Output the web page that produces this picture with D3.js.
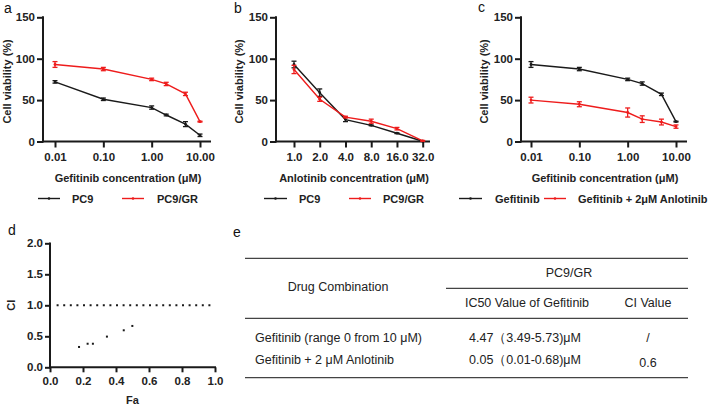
<!DOCTYPE html>
<html><head><meta charset="utf-8">
<script src="https://cdn.jsdelivr.net/npm/d3@7"></script>
<style>
html,body{margin:0;padding:0;background:#fff;}
svg{display:block;font-family:Arial,"Liberation Sans",sans-serif;}
.tk text{font-weight:bold;font-size:11.5px;fill:#222;}
.bt{font-weight:bold;font-size:11px;fill:#222;}
.tb{font-size:12.5px;fill:#222;}
</style></head><body>
<svg id="c" width="709" height="406"></svg>
<script>
// ---------- data ----------
const concA = [0.01, 0.1, 1, 2, 5, 10];
const pc9A = [72, 51, 41, 32, 21, 7.5];
const pc9AErr = [1.5, 1.5, 2, 1, 3, 1.5];
const pc9grA = [93, 87.5, 75, 69.5, 57.5, 24];
const pc9grAErr = [3.5, 2, 1.5, 2, 2, 0.5];
const ticksA = [0.01, 0.1, 1, 10];
const tickLabelsA = ["0.01", "0.10", "1.00", "10.00"];

const concB = [1, 2, 4, 8, 16, 32];
const pc9B = [93, 59, 26.5, 19.5, 10, 0.3];
const pc9BErr = [4, 4.5, 2.5, 0.5, 0.5, 0];
const pc9grB = [87, 51, 29.5, 24.5, 15.5, 0.8];
const pc9grBErr = [5, 2.5, 1, 2.5, 1.5, 0.5];
const tickLabelsB = ["1.0", "2.0", "4.0", "8.0", "16.0", "32.0"];

const concC = [0.01, 0.1, 1, 2, 5, 10];
const gefC = [93, 87.5, 75, 70, 57, 24];
const gefCErr = [3.5, 2, 1.5, 2, 1.5, 0.5];
const comboC = [50, 45, 35, 27, 23.5, 18];
const comboCErr = [3.5, 3, 5.5, 4, 3.5, 2];

const yTicks = [0, 50, 100, 150];

const faD = [0.176, 0.228, 0.26, 0.345, 0.447, 0.499];
const ciD = [0.328, 0.38, 0.38, 0.495, 0.597, 0.667];
const ciThreshold = 1.0;
const ticksDx = [0, 0.2, 0.4, 0.6, 0.8, 1.0];
const ticksDy = [0, 0.5, 1.0, 1.5, 2.0];

const tableHead = ["Drug Combination", "PC9/GR", "IC50 Value of Gefitinib", "CI Value"];
const tableRows = [
  ["Gefitinib (range 0 from 10 μM)", "4.47（3.49-5.73)μM", "/"],
  ["Gefitinib + 2 μM Anlotinib", "0.05（0.01-0.68)μM", "0.6"]
];

const BLACK = "#1a1a1a", RED = "#ee1c1c";
const svg = d3.select("#c");

function yAxisPanel(g, y, x0, xEnd, y0) {
  g.append("line").attr("x1", x0).attr("x2", x0).attr("y1", y.range()[1] - 1).attr("y2", y0 + 1)
    .attr("stroke", BLACK).attr("stroke-width", 2);
  g.append("line").attr("x1", x0 - 1).attr("x2", xEnd).attr("y1", y0).attr("y2", y0)
    .attr("stroke", BLACK).attr("stroke-width", 2);
}

function linePanel(opt) {
  const g = svg.append("g");
  const y = d3.scaleLinear().domain([0, 150]).range([opt.y0, 17.3]);
  const x = opt.x;
  yAxisPanel(g, y, opt.ax, opt.axEnd, opt.y0);
  const ya = g.append("g").attr("class", "tk").attr("transform", `translate(${opt.ax},0)`)
    .call(d3.axisLeft(y).tickValues(yTicks).tickSize(6).tickPadding(2).tickFormat(d3.format("d")));
  ya.select(".domain").remove();
  ya.selectAll("line").attr("stroke", BLACK).attr("stroke-width", 2);
  const xa = g.append("g").attr("class", "tk").attr("transform", `translate(0,${opt.y0})`)
    .call(d3.axisBottom(x).tickValues(opt.tickVals).tickSize(6).tickPadding(5)
      .tickFormat((d, i) => opt.tickLabels[i]));
  xa.select(".domain").remove();
  xa.selectAll("line").attr("stroke", BLACK).attr("stroke-width", 2);
  g.append("text").attr("class", "bt").attr("text-anchor", "middle")
    .attr("transform", `translate(${opt.ylx},${(opt.y0 + 17.3) / 2 + 2}) rotate(-90)`)
    .text("Cell viability (%)");
  g.append("text").attr("class", "bt").attr("text-anchor", "middle")
    .attr("x", (opt.ax + opt.axEnd) / 2 + 1).attr("y", 182).text(opt.xtitle);
  opt.series.forEach(s => {
    const pts = opt.xs.map((c, i) => ({ c, v: s.v[i], e: s.e[i] }));
    g.append("path").datum(pts)
      .attr("d", d3.line().x(d => x(d.c)).y(d => y(d.v)))
      .attr("fill", "none").attr("stroke", s.color).attr("stroke-width", 1.4);
    const eb = g.append("g").attr("stroke", s.color).attr("stroke-width", 1.3);
    pts.forEach(d => {
      if (d.e > 0) {
        eb.append("line").attr("x1", x(d.c)).attr("x2", x(d.c)).attr("y1", y(d.v - d.e)).attr("y2", y(d.v + d.e));
        [d.v - d.e, d.v + d.e].forEach(v => eb.append("line")
          .attr("x1", x(d.c) - 2.5).attr("x2", x(d.c) + 2.5).attr("y1", y(v)).attr("y2", y(v)));
      }
    });
    g.selectAll(null).data(pts).enter().append("circle")
      .attr("cx", d => x(d.c)).attr("cy", d => y(d.v)).attr("r", 1.4).attr("fill", s.color);
  });
  opt.legend.forEach(l => {
    g.append("line").attr("x1", l.x1).attr("x2", l.x2).attr("y1", 198.5).attr("y2", 198.5)
      .attr("stroke", l.color).attr("stroke-width", 1.4);
    g.append("circle").attr("cx", (l.x1 + l.x2) / 2).attr("cy", 198.5).attr("r", 1.3).attr("fill", l.color);
    g.append("text").attr("class", "bt").attr("x", l.tx).attr("y", 202.5).text(l.label);
  });
}

linePanel({
  x: d3.scaleLog().domain([0.01, 10]).range([55, 200]),
  ax: 43, axEnd: 211, y0: 141.5, ylx: 11,
  xs: concA, tickVals: ticksA, tickLabels: tickLabelsA,
  xtitle: "Gefitinib concentration (μM)",
  series: [{ v: pc9A, e: pc9AErr, color: BLACK }, { v: pc9grA, e: pc9grAErr, color: RED }],
  legend: [{ x1: 38, x2: 60, tx: 72, label: "PC9", color: BLACK }, { x1: 122, x2: 144, tx: 157, label: "PC9/GR", color: RED }]
});
linePanel({
  x: d3.scaleLog().base(2).domain([1, 32]).range([294, 422.7]),
  ax: 276, axEnd: 430, y0: 141.5, ylx: 243,
  xs: concB, tickVals: concB, tickLabels: tickLabelsB,
  xtitle: "Anlotinib concentration (μM)",
  series: [{ v: pc9B, e: pc9BErr, color: BLACK }, { v: pc9grB, e: pc9grBErr, color: RED }],
  legend: [{ x1: 264, x2: 287, tx: 299, label: "PC9", color: BLACK }, { x1: 349, x2: 371, tx: 383, label: "PC9/GR", color: RED }]
});
linePanel({
  x: d3.scaleLog().domain([0.01, 10]).range([531, 676]),
  ax: 521, axEnd: 687, y0: 141.5, ylx: 488,
  xs: concC, tickVals: ticksA, tickLabels: tickLabelsA,
  xtitle: "Gefitinib concentration (μM)",
  series: [{ v: gefC, e: gefCErr, color: BLACK }, { v: comboC, e: comboCErr, color: RED }],
  legend: [{ x1: 459, x2: 482, tx: 495, label: "Gefitinib", color: BLACK }, { x1: 544, x2: 566, tx: 578, label: "Gefitinib + 2μM Anlotinib", color: RED }]
});

(function () {
  const g = svg.append("g");
  const x = d3.scaleLinear().domain([0, 1]).range([50, 215]);
  const y = d3.scaleLinear().domain([0, 2]).range([367.3, 243.3]);
  g.append("line").attr("x1", 50).attr("x2", 50).attr("y1", 242.5).attr("y2", 368.3).attr("stroke", BLACK).attr("stroke-width", 2);
  g.append("line").attr("x1", 49).attr("x2", 216).attr("y1", 367.3).attr("y2", 367.3).attr("stroke", BLACK).attr("stroke-width", 2);
  const ya = g.append("g").attr("class", "tk").attr("transform", "translate(50,0)")
    .call(d3.axisLeft(y).tickValues(ticksDy).tickSize(5).tickPadding(2).tickFormat(d3.format(".1f")));
  ya.select(".domain").remove();
  ya.selectAll("line").attr("stroke", BLACK).attr("stroke-width", 2);
  const xa = g.append("g").attr("class", "tk").attr("transform", "translate(0,367.3)")
    .call(d3.axisBottom(x).tickValues(ticksDx).tickSize(5).tickPadding(5).tickFormat(d3.format(".1f")));
  xa.select(".domain").remove();
  xa.selectAll("line").attr("stroke", BLACK).attr("stroke-width", 2);
  g.append("line").attr("x1", x(0.04)).attr("x2", x(1.0)).attr("y1", y(ciThreshold)).attr("y2", y(ciThreshold))
    .attr("stroke", BLACK).attr("stroke-width", 2).attr("stroke-dasharray", "2,4.6");
  g.selectAll(null).data(faD).enter().append("rect")
    .attr("x", (d) => x(d) - 1).attr("y", (d, i) => y(ciD[i]) - 1).attr("width", 2).attr("height", 2).attr("fill", BLACK);
  g.append("text").attr("class", "bt").attr("text-anchor", "middle")
    .attr("transform", `translate(15,${y(1)}) rotate(-90)`).text("CI");
  g.append("text").attr("class", "bt").attr("text-anchor", "middle").attr("x", x(0.5)).attr("y", 404).text("Fa");
})();

[["a", 4, 13], ["b", 234, 13], ["c", 478, 12], ["d", 8, 235], ["e", 233, 237]].forEach(p =>
  svg.append("text").attr("x", p[1]).attr("y", p[2]).attr("font-size", 14).attr("fill", "#111").text(p[0]));

(function () {
  const g = svg.append("g");
  const L = 245, R = 688;
  const hl = (x1, yy) => g.append("line").attr("x1", x1).attr("x2", R).attr("y1", yy).attr("y2", yy)
    .attr("stroke", "#444").attr("stroke-width", 1.3);
  hl(L, 258.3); hl(446, 288.3); hl(L, 318.3); hl(L, 377.7);
  const t = (s, x, yy, a) => g.append("text").attr("class", "tb").attr("x", x).attr("y", yy)
    .attr("text-anchor", a).text(s);
  t(tableHead[0], 338, 291, "middle");
  t(tableHead[1], 569, 277, "middle");
  t(tableHead[2], 527, 307, "middle");
  t(tableHead[3], 648, 307, "middle");
  const rowY = [342, 363.5];
  tableRows.forEach((r, i) => {
    t(r[0], 255, rowY[i], "start");
    t(r[1], 469, rowY[i], "start");
    t(r[2], 648, rowY[i] + (i === 1 ? 3 : 0), "middle");
  });
})();
</script>
</body></html>
